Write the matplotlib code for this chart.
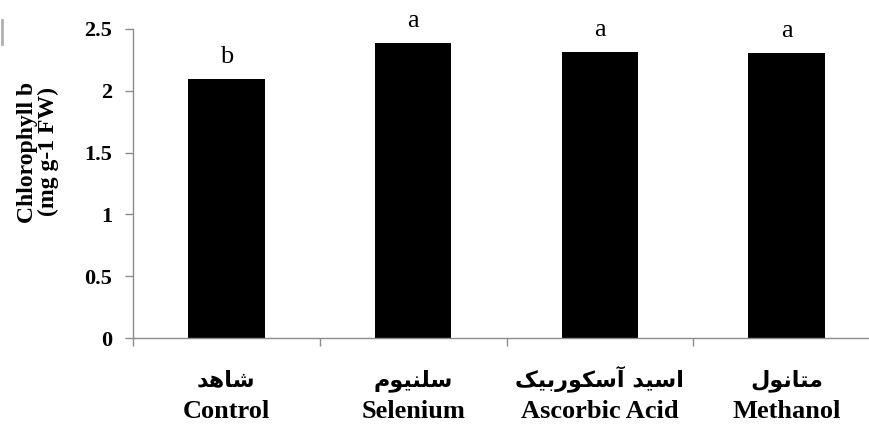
import matplotlib
matplotlib.use("Agg")
import matplotlib.pyplot as plt
from matplotlib.lines import Line2D

# data
treatments = ["Control", "Selenium", "Ascorbic Acid", "Methanol"]
# Persian names, written in presentation forms (visual order) since matplotlib has no shaping
persian = [
    "\uFEAA\uFEEB\uFE8E\uFEB7",                       # شاهد
    "\uFEE1\uFEEE\uFEF4\uFEE8\uFEE0\uFEB3",           # سلنیوم
    "\uFB8F\uFEF4\uFE91\uFEAD\uFEEE\uFB91\uFEB3\uFE81 \uFEAA\uFEF4\uFEB3\uFE8D",  # اسید آسکوربیک
    "\uFEDD\uFEEE\uFEE7\uFE8E\uFE98\uFEE3",           # متانول
]
chl_b = [2.095, 2.387, 2.314, 2.306]
letters = ["b", "a", "a", "a"]
yticks = [0, 0.5, 1, 1.5, 2, 2.5]
ytick_labels = ["0", "0.5", "1", "1.5", "2", "2.5"]

grey = "#8c8c8c"
serif = ["Liberation Serif", "DejaVu Serif"]

fig = plt.figure(figsize=(8.69, 4.25), dpi=100)
# axes runs a little past the right edge, as in the original
ax = fig.add_axes([133 / 869, 87 / 425, 747 / 869, 309 / 425])

x = range(len(treatments))
bars = ax.bar(x, chl_b, width=0.41, color="black", zorder=2)

ax.set_xlim(-0.5, 3.5)
ax.set_ylim(0, 2.5)
ax.set_yticks(yticks)
ax.set_yticklabels(ytick_labels, fontfamily=serif, fontweight="bold", fontsize=16)

# category boundaries get the tick marks, centres get none
ax.set_xticks(x)
ax.set_xticklabels([])
ax.set_xticks([-0.5, 0.5, 1.5, 2.5], minor=True)
ax.tick_params(axis="x", which="major", length=0)
ax.tick_params(axis="x", which="minor", length=6, color=grey, width=1)
ax.tick_params(axis="y", length=6, color=grey, width=1, pad=9)

for side in ["top", "right"]:
    ax.spines[side].set_visible(False)
for side in ["left", "bottom"]:
    ax.spines[side].set_color(grey)
    ax.spines[side].set_linewidth(1)

# significance letters
for xi, val, lab in zip(x, chl_b, letters):
    ax.annotate(lab, (xi, val), xytext=(0, 11.5), textcoords="offset points",
                ha="center", va="baseline", fontsize=19, fontfamily=serif)

# two-line category labels
for xi, fa, en in zip(x, persian, treatments):
    ax.annotate(fa, (xi, 0), xycoords=("data", "axes fraction"),
                xytext=(0, -35), textcoords="offset points", ha="center", va="baseline",
                fontsize=16, fontweight="bold", fontfamily=["DejaVu Sans"], annotation_clip=False)
    ax.annotate(en, (xi, 0), xycoords=("data", "axes fraction"),
                xytext=(0, -57.5), textcoords="offset points", ha="center", va="baseline",
                fontsize=19, fontweight="bold", fontfamily=serif, annotation_clip=False)

fig.text(38 / 869, 1 - 152 / 425, "Chlorophyll b\n(mg g-1 FW)", rotation=90,
         ha="center", va="center", fontsize=17, fontweight="bold", fontfamily=serif,
         linespacing=0.95)

# small grey stub at the top-left corner of the original
fig.add_artist(Line2D([1.5 / 869, 1.5 / 869], [1 - 20 / 425, 1 - 44 / 425],
                      transform=fig.transFigure, color="#b0b0b0", lw=2))

fig.savefig("out.png", dpi=100)
